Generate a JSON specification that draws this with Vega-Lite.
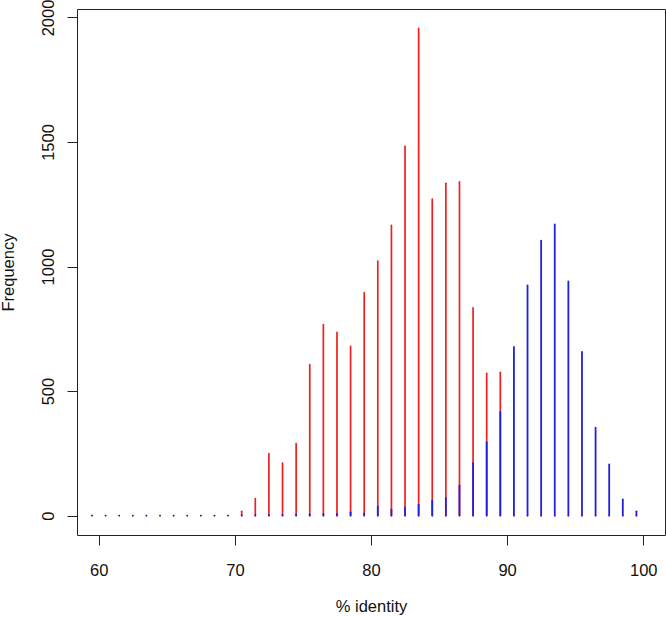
{
  "$schema": "https://vega.github.io/schema/vega-lite/v6.json",
  "width": 588,
  "height": 526,
  "autosize": {"type": "none"},
  "padding": {"left": 77, "top": 9, "right": 1, "bottom": 82},
  "background": "white",
  "config": {
    "view": {"stroke": "#222222", "strokeWidth": 1},
    "font": "Liberation Sans",
    "axis": {
      "grid": false,
      "domain": false,
      "tickColor": "#222222",
      "tickSize": 10,
      "labelFont": "Liberation Sans",
      "labelFontSize": 16.5,
      "labelColor": "#111111",
      "titleFont": "Liberation Sans",
      "titleFontSize": 16.5,
      "titleFontWeight": "normal",
      "titleColor": "#111111"
    }
  },
  "datasets": {
    "hist": [
      {"identity": 59.5, "series": "red", "count": 0},
      {"identity": 60.5, "series": "red", "count": 0},
      {"identity": 61.5, "series": "red", "count": 0},
      {"identity": 62.5, "series": "red", "count": 0},
      {"identity": 63.5, "series": "red", "count": 0},
      {"identity": 64.5, "series": "red", "count": 0},
      {"identity": 65.5, "series": "red", "count": 0},
      {"identity": 66.5, "series": "red", "count": 0},
      {"identity": 67.5, "series": "red", "count": 0},
      {"identity": 68.5, "series": "red", "count": 0},
      {"identity": 69.5, "series": "red", "count": 0},
      {"identity": 70.5, "series": "red", "count": 17},
      {"identity": 71.5, "series": "red", "count": 68},
      {"identity": 72.5, "series": "red", "count": 249},
      {"identity": 73.5, "series": "red", "count": 211},
      {"identity": 74.5, "series": "red", "count": 289},
      {"identity": 75.5, "series": "red", "count": 606},
      {"identity": 76.5, "series": "red", "count": 767},
      {"identity": 77.5, "series": "red", "count": 736},
      {"identity": 78.5, "series": "red", "count": 679},
      {"identity": 79.5, "series": "red", "count": 895},
      {"identity": 80.5, "series": "red", "count": 1022},
      {"identity": 81.5, "series": "red", "count": 1165},
      {"identity": 82.5, "series": "red", "count": 1483},
      {"identity": 83.5, "series": "red", "count": 1956},
      {"identity": 84.5, "series": "red", "count": 1271},
      {"identity": 85.5, "series": "red", "count": 1334},
      {"identity": 86.5, "series": "red", "count": 1340},
      {"identity": 87.5, "series": "red", "count": 834},
      {"identity": 88.5, "series": "red", "count": 571},
      {"identity": 89.5, "series": "red", "count": 575},
      {"identity": 90.5, "series": "red", "count": 0},
      {"identity": 91.5, "series": "red", "count": 0},
      {"identity": 92.5, "series": "red", "count": 0},
      {"identity": 93.5, "series": "red", "count": 0},
      {"identity": 94.5, "series": "red", "count": 0},
      {"identity": 95.5, "series": "red", "count": 0},
      {"identity": 96.5, "series": "red", "count": 0},
      {"identity": 97.5, "series": "red", "count": 0},
      {"identity": 98.5, "series": "red", "count": 0},
      {"identity": 99.5, "series": "red", "count": 0},
      {"identity": 59.5, "series": "blue", "count": 0},
      {"identity": 60.5, "series": "blue", "count": 0},
      {"identity": 61.5, "series": "blue", "count": 0},
      {"identity": 62.5, "series": "blue", "count": 0},
      {"identity": 63.5, "series": "blue", "count": 0},
      {"identity": 64.5, "series": "blue", "count": 0},
      {"identity": 65.5, "series": "blue", "count": 0},
      {"identity": 66.5, "series": "blue", "count": 0},
      {"identity": 67.5, "series": "blue", "count": 0},
      {"identity": 68.5, "series": "blue", "count": 0},
      {"identity": 69.5, "series": "blue", "count": 0},
      {"identity": 70.5, "series": "blue", "count": 1},
      {"identity": 71.5, "series": "blue", "count": 2},
      {"identity": 72.5, "series": "blue", "count": 2},
      {"identity": 73.5, "series": "blue", "count": 3},
      {"identity": 74.5, "series": "blue", "count": 4},
      {"identity": 75.5, "series": "blue", "count": 5},
      {"identity": 76.5, "series": "blue", "count": 6},
      {"identity": 77.5, "series": "blue", "count": 7},
      {"identity": 78.5, "series": "blue", "count": 13},
      {"identity": 79.5, "series": "blue", "count": 8},
      {"identity": 80.5, "series": "blue", "count": 36},
      {"identity": 81.5, "series": "blue", "count": 24},
      {"identity": 82.5, "series": "blue", "count": 32},
      {"identity": 83.5, "series": "blue", "count": 44},
      {"identity": 84.5, "series": "blue", "count": 60},
      {"identity": 85.5, "series": "blue", "count": 70},
      {"identity": 86.5, "series": "blue", "count": 121},
      {"identity": 87.5, "series": "blue", "count": 210},
      {"identity": 88.5, "series": "blue", "count": 294},
      {"identity": 89.5, "series": "blue", "count": 416},
      {"identity": 90.5, "series": "blue", "count": 677},
      {"identity": 91.5, "series": "blue", "count": 924},
      {"identity": 92.5, "series": "blue", "count": 1104},
      {"identity": 93.5, "series": "blue", "count": 1169},
      {"identity": 94.5, "series": "blue", "count": 940},
      {"identity": 95.5, "series": "blue", "count": 657},
      {"identity": 96.5, "series": "blue", "count": 353},
      {"identity": 97.5, "series": "blue", "count": 205},
      {"identity": 98.5, "series": "blue", "count": 65},
      {"identity": 99.5, "series": "blue", "count": 17}
    ]
  },
  "data": {"name": "hist"},
  "encoding": {
    "x": {
      "field": "identity",
      "type": "quantitative",
      "scale": {"domain": [58.4, 101.6], "nice": false, "zero": false},
      "axis": {
        "values": [60, 70, 80, 90, 100],
        "format": "d",
        "title": "% identity",
        "labelBaseline": "alphabetic",
        "labelPadding": 30,
        "titleBaseline": "alphabetic",
        "titleX": 294,
        "titleY": 76
      }
    },
    "y": {
      "field": "count",
      "type": "quantitative",
      "scale": {"domain": [-78, 2034], "nice": false, "zero": false},
      "axis": {
        "values": [0, 500, 1000, 1500, 2000],
        "format": "d",
        "title": "Frequency",
        "labelAngle": -90,
        "labelAlign": "center",
        "labelBaseline": "alphabetic",
        "labelPadding": 13.5,
        "titleAngle": -90,
        "titleBaseline": "alphabetic",
        "titleAlign": "center",
        "titleX": -63.5,
        "titleY": 263
      }
    },
    "y2": {"datum": 0},
    "color": {
      "field": "series",
      "type": "nominal",
      "scale": {"domain": ["red", "blue"], "range": ["#f02020", "#2020e0"]},
      "legend": null
    }
  },
  "layer": [
    {
      "transform": [{"filter": "datum.series === 'red'"}],
      "mark": {"type": "rule", "strokeWidth": 1.7, "strokeCap": "round"}
    },
    {
      "transform": [{"filter": "datum.series === 'blue'"}],
      "mark": {"type": "rule", "strokeWidth": 1.8, "strokeCap": "round"}
    }
  ]
}
